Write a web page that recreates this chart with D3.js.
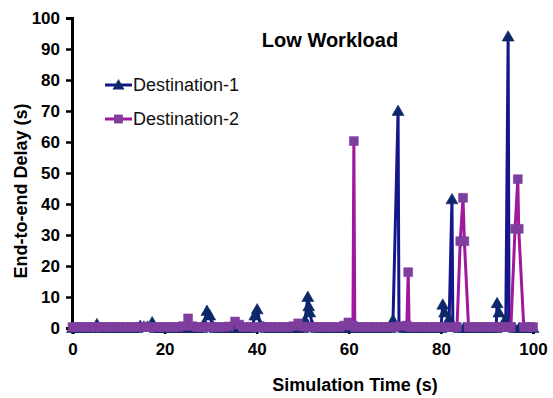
<!DOCTYPE html>
<html>
<head>
<meta charset="utf-8">
<script src="https://cdn.jsdelivr.net/npm/d3@7"></script>
<style>
  body { margin: 0; background: #fff; }
  svg { display: block; font-family: Arial, "Liberation Sans", sans-serif; }
</style>
</head>
<body>
<svg id="chart" width="553" height="398"></svg>
<script>
// values
const xTicks = [0, 20, 40, 60, 80, 100];
const yTicks = [0, 10, 20, 30, 40, 50, 60, 70, 80, 90, 100];

const dest1Time = [0, 1, 2, 3, 4, 5.3, 6, 7, 8, 9, 10, 11, 12, 13, 14, 14.7, 15.5, 16.3, 17.3, 18, 19, 20, 21, 22, 23, 24, 25, 26, 27, 28,
  28.6, 29.2, 29.8, 30.5, 31, 32, 33, 34, 35, 36, 37, 38, 39, 39.6, 40.1, 40.8, 41.5, 42, 43, 44, 45, 46, 47, 48, 49, 50,
  50.5, 51.1, 51.3, 51.5, 52.2, 53, 54, 55, 56, 57, 58, 59, 60, 61, 62, 63, 64, 65, 66, 67, 68, 69, 69.6, 70.7, 70.9, 72,
  73, 74, 75, 76, 77, 78, 79, 80, 80.4, 80.8, 81.8, 82.4, 82.6, 84, 85, 86, 87, 88, 89, 90, 91, 92, 92.2, 92.6, 94.1, 94.6,
  94.8, 96, 97, 98, 99, 100];
const dest1Delay = [0, 0, 0, 0, 0, 1.2, 0, 0, 0, 0, 0, 0, 0, 0, 0, 0.7, 0.4, 0.4, 1.8, 0, 0, 0, 0, 0, 0, 0, 0, 0, 0, 0,
  1.5, 5.5, 4, 0.5, 0, 0, 0, 0, 0, 0, 0, 0, 0, 4, 6, 1, 0.3, 0, 0, 0, 0, 0, 0, 0, 0, 0,
  2.5, 10, 7, 5, 0.5, 0, 0, 0, 0, 0, 0, 0, 0, 0, 0, 0, 0, 0, 0, 0, 0, 0, 2.5, 70, 0.5, 0,
  0, 0, 0, 0, 0, 0, 0, 0, 7.5, 5, 3, 41.5, 0.3, 0, 0, 0, 0, 0, 0, 0, 0, 0, 8, 5, 3, 94,
  0.3, 0, 0, 0, 0, 0];

const dest2Time = [0, 1, 2, 3, 4, 5, 6, 7, 8, 9, 10, 11, 12, 13, 14, 15, 16, 17, 18, 19, 20, 21, 22, 23, 24, 25.1, 26, 27, 28,
  29, 30, 31, 32, 33, 34, 35.3, 36.2, 37, 38, 39, 40, 41, 42, 43, 44, 45, 46, 47, 48, 49, 50, 51, 52, 53, 54, 55, 56, 57,
  58, 59, 59.9, 60.9, 61.1, 61.3, 62, 63, 64, 65, 66, 67, 68, 69, 70, 71, 72.6, 72.9, 73.1, 74, 75, 76, 77, 78, 79, 80, 81, 82,
  83.3, 83.5, 84.2, 84.8, 85.1, 86, 87, 88, 89, 90, 91, 92, 93, 94, 95.0, 95.2, 96.1, 96.7, 96.9, 98, 99, 100];
const dest2Delay = [0.3, 0.3, 0.3, 0.3, 0.3, 0.3, 0.3, 0.3, 0.3, 0.3, 0.3, 0.3, 0.3, 0.3, 0.3, 0.3, 0.3, 0.3, 0.3, 0.3, 0.3, 0.3, 0.3, 0.3, 0.6, 3.1, 0.6, 0.3, 0.3,
  0.3, 0.3, 0.3, 0.3, 0.3, 0.5, 2.1, 1.1, 0.3, 0.3, 0.3, 0.3, 0.3, 0.3, 0.3, 0.3, 0.3, 0.3, 0.3, 0.6, 1.5, 0.5, 0.3, 0.3, 0.3, 0.3, 0.3, 0.3, 0.3,
  0.3, 0.8, 1.8, 0.8, 60.3, 0.3, 0.3, 0.3, 0.3, 0.3, 0.3, 0.3, 0.3, 0.3, 0.3, 0.6, 0.8, 18, 0.3, 0.3, 0.3, 0.3, 0.3, 0.3, 0.3, 0.3, 0.3, 0.3, 0.3,
  0.3, 28, 42, 28, 0.3, 0.3, 0.3, 0.3, 0.3, 0.3, 0.3, 0.3, 0.3, 0.3, 0.3, 32, 48, 32, 0.3, 0.3, 0.3, 0.3];

const seriesNames = ["Destination-1", "Destination-2"];
const lineColours = ["#16168c", "#a0189c"];
const markerColours = ["#0c2868", "#7e3e9e"];

const svg = d3.select("#chart");

const x = d3.scaleLinear().domain([0, 100]).range([72.5, 533]);
const y = d3.scaleLinear().domain([0, 100]).range([328, 18]);

// axes (drawn under the data)
const xAxis = svg.append("g")
    .attr("transform", "translate(0,328)")
    .call(d3.axisBottom(x).tickValues(xTicks).tickSize(6).tickPadding(9));
const yAxis = svg.append("g")
    .attr("transform", "translate(72,0)")
    .call(d3.axisLeft(y).tickValues(yTicks).tickSize(6).tickPadding(6));

[xAxis, yAxis].forEach(g => {
    g.select(".domain").attr("stroke", "#000").attr("stroke-width", 3);
    g.selectAll(".tick line").attr("stroke", "#000").attr("stroke-width", 2.5);
    g.selectAll(".tick text")
        .attr("fill", "#000")
        .attr("font-family", "Arial, 'Liberation Sans', sans-serif")
        .attr("font-weight", "bold")
        .attr("font-size", 17);
});

const tri = d3.symbol().type(d3.symbolTriangle).size(62);
const sq = d3.symbol().type(d3.symbolSquare).size(78);

const series = [
    {time: dest1Time, delay: dest1Delay, shape: tri, dy: 1},
    {time: dest2Time, delay: dest2Delay, shape: sq, dy: 0}
];

const line = d3.line()
    .x(d => x(d[0]))
    .y(d => y(d[1]));

series.forEach((s, i) => {
    const pts = s.time.map((t, k) => [t, s.delay[k]]);
    svg.append("path")
        .datum(pts)
        .attr("fill", "none")
        .attr("stroke", lineColours[i])
        .attr("stroke-width", 3)
        .attr("stroke-linejoin", "round")
        .attr("d", line);
    svg.append("g").selectAll("path")
        .data(pts)
        .join("path")
        .attr("transform", d => `translate(${x(d[0])},${y(d[1]) + s.dy})`)
        .attr("d", s.shape())
        .attr("fill", markerColours[i])
        .attr("stroke", markerColours[i])
        .attr("stroke-width", 0.6);
});

// title
svg.append("text")
    .attr("x", 330).attr("y", 47)
    .attr("text-anchor", "middle")
    .attr("font-weight", "bold")
    .attr("font-size", 20)
    .text("Low Workload");

// legend
const legend = svg.append("g");
seriesNames.forEach((name, i) => {
    const ly = 85 + i * 34;
    legend.append("line")
        .attr("x1", 105).attr("x2", 132)
        .attr("y1", ly).attr("y2", ly)
        .attr("stroke", lineColours[i])
        .attr("stroke-width", 3);
    legend.append("path")
        .attr("transform", `translate(118.5,${ly + series[i].dy})`)
        .attr("d", series[i].shape())
        .attr("fill", markerColours[i]);
    legend.append("text")
        .attr("x", 133).attr("y", ly + 6)
        .attr("font-size", 18)
        .attr("fill", "#111")
        .text(name);
});

// axis titles
svg.append("text")
    .attr("x", 355).attr("y", 391)
    .attr("text-anchor", "middle")
    .attr("font-weight", "bold")
    .attr("font-size", 18)
    .text("Simulation Time (s)");

svg.append("text")
    .attr("transform", "translate(27,191) rotate(-90)")
    .attr("text-anchor", "middle")
    .attr("font-weight", "bold")
    .attr("font-size", 18)
    .text("End-to-end Delay (s)");
</script>
</body>
</html>
